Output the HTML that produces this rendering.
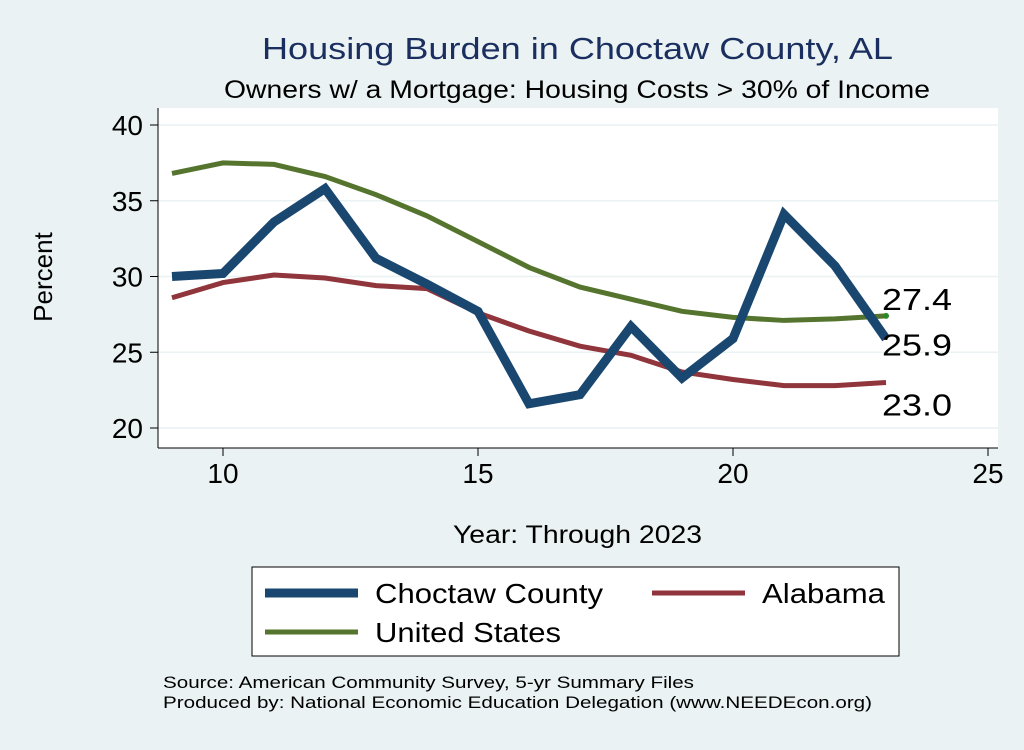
<!DOCTYPE html>
<html><head><meta charset="utf-8"><style>
body{margin:0;background:#eaf2f3;font-family:"Liberation Sans",sans-serif}
svg text{font-family:"Liberation Sans",sans-serif}
</style></head><body>
<svg id="c" width="1024" height="745">
<rect width="1024" height="745" fill="#eaf2f3"/>
<text x="262" y="59" font-size="31" fill="#1a2f5f" textLength="631" lengthAdjust="spacingAndGlyphs">Housing Burden in Choctaw County, AL</text>
<text x="224" y="98" font-size="25" fill="#000" textLength="706" lengthAdjust="spacingAndGlyphs">Owners w/ a Mortgage: Housing Costs &gt; 30% of Income</text>
<rect x="158" y="108" width="840" height="340" fill="#fff"/>
<g id="grid"></g><g id="axes"></g><g id="series"></g>
<text x="52" y="277" font-size="26" text-anchor="middle" transform="rotate(-90 52 277)">Percent</text>
<text x="453" y="543" font-size="25" textLength="249" lengthAdjust="spacingAndGlyphs">Year: Through 2023</text>
<g>
<rect x="252" y="567" width="647" height="89" fill="#fff" stroke="#000" stroke-width="1"/>
<g><line x1="265" y1="593" x2="358" y2="593" stroke="#1a476f" stroke-width="9"/><text x="375" y="603" font-size="28" textLength="228" lengthAdjust="spacingAndGlyphs">Choctaw County</text></g>
<g><line x1="652" y1="593" x2="745" y2="593" stroke="#90353b" stroke-width="5"/><text x="762" y="603" font-size="28" textLength="123" lengthAdjust="spacingAndGlyphs">Alabama</text></g>
<g><line x1="265" y1="632" x2="358" y2="632" stroke="#55752f" stroke-width="5"/><text x="375" y="642" font-size="28" textLength="186" lengthAdjust="spacingAndGlyphs">United States</text></g>
</g>
<text x="163" y="688" font-size="17" textLength="531" lengthAdjust="spacingAndGlyphs">Source: American Community Survey, 5-yr Summary Files</text>
<text x="163" y="708" font-size="17" textLength="709" lengthAdjust="spacingAndGlyphs">Produced by: National Economic Education Delegation (www.NEEDEcon.org)</text>
</svg>
<script>
const years=[9,10,11,12,13,14,15,16,17,18,19,20,21,22,23];
const choctaw=[30.0,30.2,33.6,35.8,31.2,29.5,27.7,21.6,22.2,26.7,23.3,25.9,34.1,30.7,25.9];
const alabama=[28.6,29.6,30.1,29.9,29.4,29.2,27.6,26.4,25.4,24.8,23.7,23.2,22.8,22.8,23.0];
const usa=[36.8,37.5,37.4,36.6,35.4,34.0,32.3,30.6,29.3,28.5,27.7,27.3,27.1,27.2,27.4];
const xTicks=[10,15,20,25];
const yTicks=[20,25,30,35,40];
const NS='http://www.w3.org/2000/svg';
const X=v=>223+(v-10)*51, Y=v=>428-(v-20)*15.15;
function mk(t,a,p){const e=document.createElementNS(NS,t);for(const k in a)e.setAttribute(k,a[k]);p.appendChild(e);return e;}
const g=document.getElementById('grid'),ax=document.getElementById('axes'),s=document.getElementById('series');
mk('line',{x1:158,y1:108,x2:158,y2:448,stroke:'#000'},ax);
mk('line',{x1:158,y1:448,x2:998,y2:448,stroke:'#000'},ax);
yTicks.forEach(v=>{
 const l=mk('line',{x1:158,y1:Y(v),x2:998,y2:Y(v),stroke:'#eaf2f3','stroke-width':1.5},g);
 
 
 mk('line',{x1:150,y1:Y(v),x2:158,y2:Y(v),stroke:'#000'},ax);
 const t=mk('text',{x:143,y:Y(v)+10,'font-size':28,'text-anchor':'end'},ax);t.textContent=v;
 
 
});
xTicks.forEach(v=>{
 mk('line',{x1:X(v),y1:448,x2:X(v),y2:456,stroke:'#000'},ax);
 const t=mk('text',{x:X(v),y:483,'font-size':28,'text-anchor':'middle'},ax);t.textContent=v;
 
 
});
function line(d,c,w,name){
 const p=mk('polyline',{points:d.map((v,i)=>X(years[i])+','+Y(v)).join(' '),fill:'none',stroke:c,'stroke-width':w,'stroke-linejoin':'miter'},s);
 
 
}
line(alabama,'#90353b',5,'alabama-line');
line(usa,'#55752f',5,'us-line');
line(choctaw,'#1a476f',9,'choctaw-line');
const n=years.length-1;
mk('circle',{cx:X(years[n]),cy:Y(usa[n]),r:3,fill:'#2a8a2a'},s);
[[usa[n],Y(usa[n])-6,'us'],[choctaw[n],Y(choctaw[n])+17,'choctaw'],[alabama[n],Y(alabama[n])+33,'alabama']].forEach(([v,y,nm])=>{
 const t=mk('text',{x:X(years[n])-4,y:y,'font-size':31,textLength:70,lengthAdjust:'spacingAndGlyphs'},s);t.textContent=v.toFixed(1);
 
 
});
</script>
</body></html>
